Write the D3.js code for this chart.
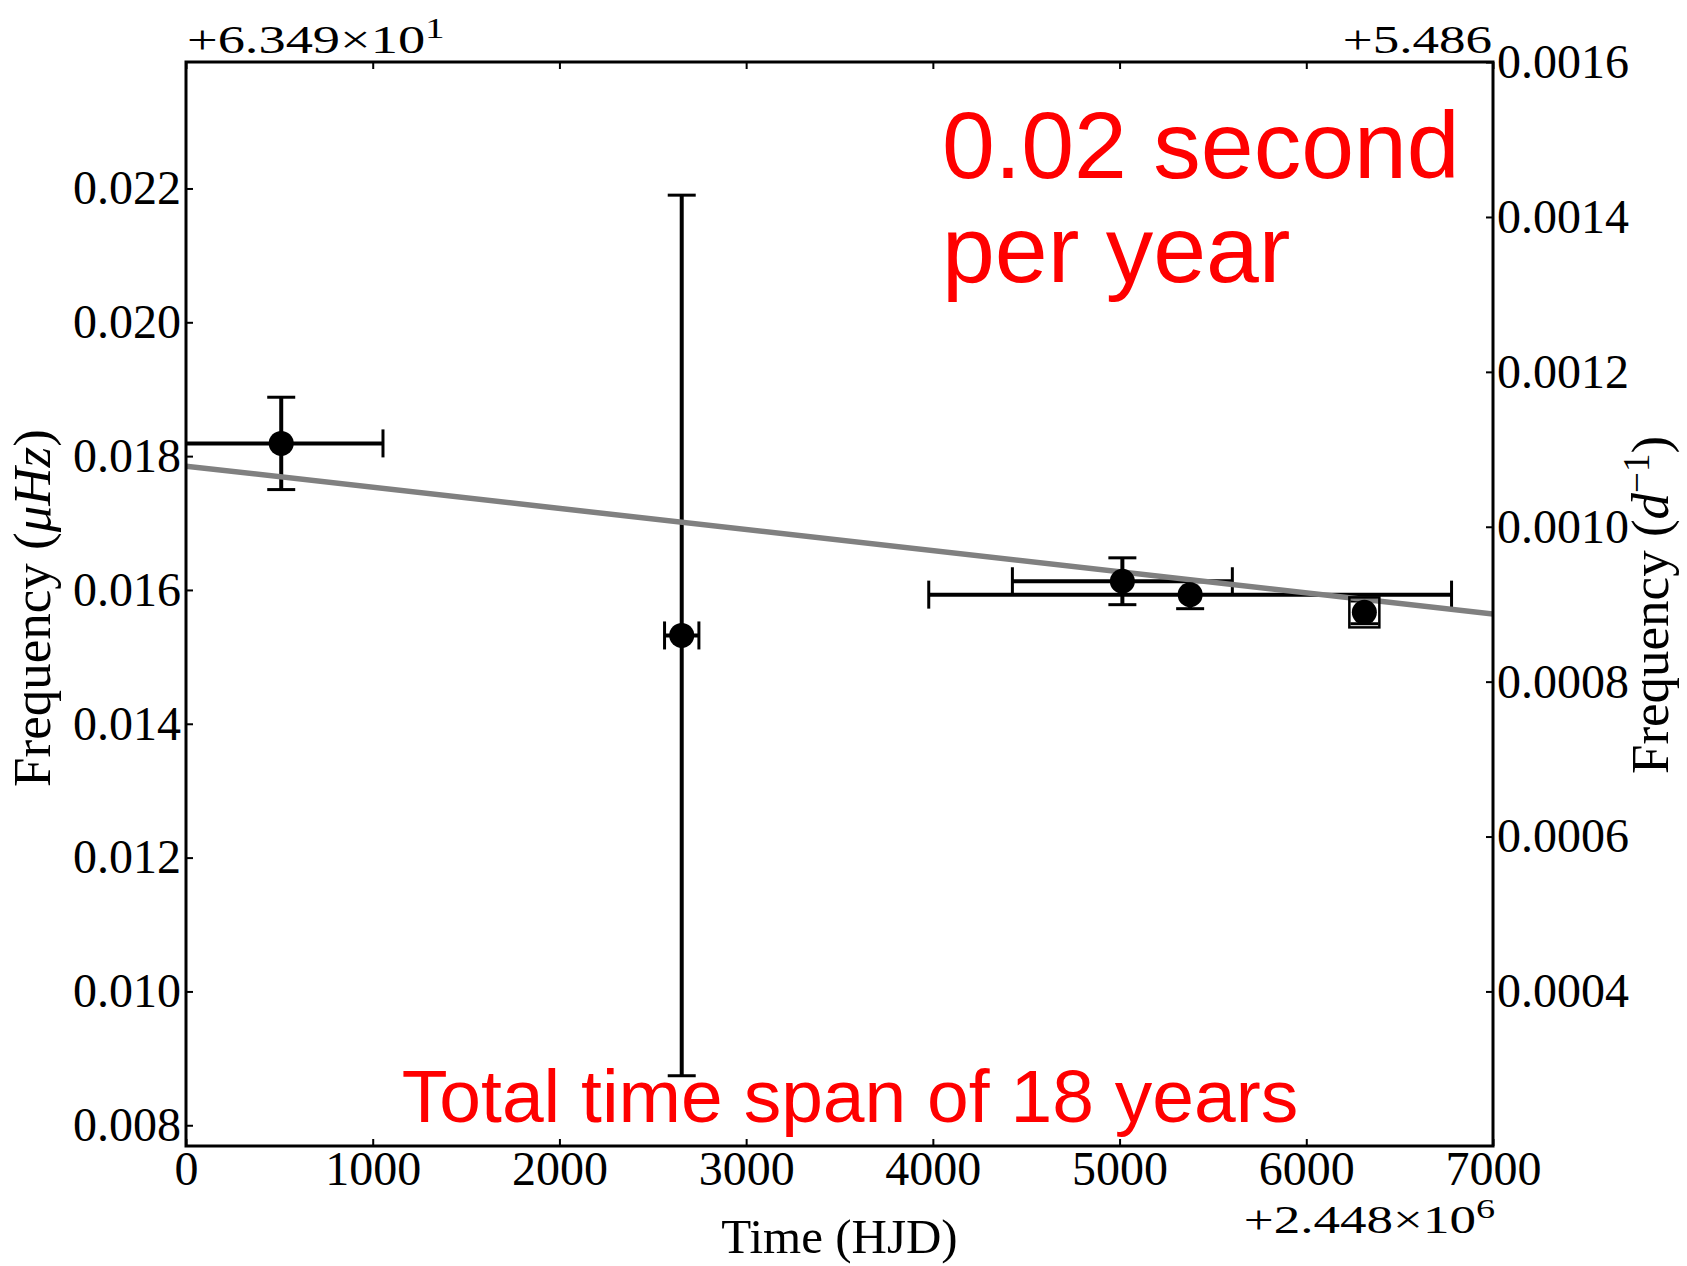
<!DOCTYPE html>
<html>
<head>
<meta charset="utf-8">
<script src="https://cdn.jsdelivr.net/npm/d3@7"></script>
<style>
  body { margin: 0; background: #fff; }
  svg { display: block; }
  .tick text { font-family: "Liberation Serif", serif; font-size: 48px; fill: #000; }
</style>
</head>
<body>
<svg id="chart" width="1687" height="1266"></svg>
<script>
// data: time is HJD - 2448000, freq is uHz - 63.49
var time     = [510, 2655, 5015, 5378, 6311];
var timeErr  = [545, 92, 589, 1400, 0];
var freq     = [0.01819, 0.01532, 0.01613, 0.01593, 0.015665];
var freqErr  = [0.00069, 0.00658, 0.00035, 0.00021, 0.00017];
var boxed    = [false, false, false, false, true];

// linear fit
var fitTime = [0, 7000];
var fitFreq = [0.01785, 0.01564];

var timeRange = [0, 7000];
var freqRange = [0.00769, 0.02389];
var xTicks  = [0, 1000, 2000, 3000, 4000, 5000, 6000, 7000];
var yTicks  = [0.008, 0.010, 0.012, 0.014, 0.016, 0.018, 0.020, 0.022];
var y2Ticks = [0.0004, 0.0006, 0.0008, 0.0010, 0.0012, 0.0014, 0.0016];

var offsetFreq = 63.49, offsetFreqD = 5.486, uHzToPerDay = 0.0864;

var svg = d3.select("#chart"),
    margin = {top: 62, right: 194, bottom: 120, left: 186},
    width = +svg.attr("width") - margin.left - margin.right,
    height = +svg.attr("height") - margin.top - margin.bottom,
    g = svg.append("g").attr("transform", "translate(" + margin.left + "," + margin.top + ")");

var x = d3.scaleLinear().domain(timeRange).range([0, width]);
var y = d3.scaleLinear().domain(freqRange).range([height, 0]);
var y2 = d3.scaleLinear()
    .domain(freqRange.map(function(f) { return (offsetFreq + f) * uHzToPerDay - offsetFreqD; }))
    .range([height, 0]);

g.append("defs").append("clipPath")
    .attr("id", "clip")
  .append("rect")
    .attr("width", width)
    .attr("height", height);

// axes, ticks inside
function styleAxis(sel) {
  sel.select(".domain").remove();
  sel.selectAll(".tick line").attr("stroke", "#000").attr("stroke-width", 2);
}
g.append("g")
    .attr("transform", "translate(0," + height + ")")
    .call(d3.axisBottom(x).tickValues(xTicks).tickFormat(d3.format("d"))
      .tickSizeInner(-7).tickSizeOuter(0).tickPadding(5))
    .call(styleAxis);
g.append("g")
    .call(d3.axisTop(x).tickValues(xTicks).tickFormat("")
      .tickSizeInner(-7).tickSizeOuter(0))
    .call(styleAxis);
g.append("g")
    .call(d3.axisLeft(y).tickValues(yTicks).tickFormat(d3.format(".3f"))
      .tickSizeInner(-7).tickSizeOuter(0).tickPadding(5))
    .call(styleAxis);
g.append("g")
    .attr("transform", "translate(" + width + ",0)")
    .call(d3.axisRight(y2).tickValues(y2Ticks).tickFormat(d3.format(".4f"))
      .tickSizeInner(-7).tickSizeOuter(0).tickPadding(4))
    .call(styleAxis);

// error bars
var pts = time.map(function(t, i) {
  return {t: t, te: timeErr[i], f: freq[i], fe: freqErr[i], box: boxed[i]};
});
var eb = g.append("g").attr("clip-path", "url(#clip)");
var cap = 14;
pts.forEach(function(d) {
  var cx = x(d.t), cy = y(d.f);
  if (d.fe > 0) {
    var y0 = y(d.f - d.fe), y1 = y(d.f + d.fe);
    eb.append("line").attr("x1", cx).attr("x2", cx).attr("y1", y0).attr("y2", y1)
      .attr("stroke", "#000").attr("stroke-width", 4);
    [y0, y1].forEach(function(yy) {
      eb.append("line").attr("x1", cx - cap).attr("x2", cx + cap).attr("y1", yy).attr("y2", yy)
        .attr("stroke", "#000").attr("stroke-width", 3);
    });
  }
  if (d.te > 0) {
    var x0 = x(d.t - d.te), x1 = x(d.t + d.te);
    eb.append("line").attr("x1", x0).attr("x2", x1).attr("y1", cy).attr("y2", cy)
      .attr("stroke", "#000").attr("stroke-width", 4);
    [x0, x1].forEach(function(xx) {
      eb.append("line").attr("x1", xx).attr("x2", xx).attr("y1", cy - cap).attr("y2", cy + cap)
        .attr("stroke", "#000").attr("stroke-width", 3);
    });
  }
});

// fit line
var line = d3.line()
    .x(function(d) { return x(d[0]); })
    .y(function(d) { return y(d[1]); });
g.append("g").attr("clip-path", "url(#clip)")
  .append("path")
    .datum(d3.zip(fitTime, fitFreq))
    .attr("d", line)
    .attr("fill", "none")
    .attr("stroke", "#808080")
    .attr("stroke-width", 5.5);

// points
g.selectAll(".pt")
    .data(pts)
  .enter().append("circle")
    .attr("class", "pt")
    .attr("cx", function(d) { return x(d.t); })
    .attr("cy", function(d) { return y(d.f); })
    .attr("r", 12.5)
    .attr("fill", "#000");
g.selectAll(".box")
    .data(pts.filter(function(d) { return d.box; }))
  .enter().append("rect")
    .attr("class", "box")
    .attr("x", function(d) { return x(d.t) - 15; })
    .attr("y", function(d) { return y(d.f) - 15; })
    .attr("width", 30)
    .attr("height", 30)
    .attr("fill", "none")
    .attr("stroke", "#000")
    .attr("stroke-width", 2.5);

// frame
g.append("rect")
    .attr("width", width)
    .attr("height", height)
    .attr("fill", "none")
    .attr("stroke", "#000")
    .attr("stroke-width", 3);

// offset labels
function offsetText(tx, ty, anchor, size, main, sup) {
  var t = svg.append("text")
      .attr("transform", "translate(" + tx + "," + ty + ") scale(1.36,1)")
      .attr("text-anchor", anchor)
      .style("font-family", "Liberation Serif, serif")
      .style("font-size", size + "px");
  t.append("tspan").text(main);
  if (sup) t.append("tspan").attr("dy", -15).style("font-size", (size * 0.72) + "px").text(sup);
}
offsetText(187, 53, "start", 40, "+6.349\u00d710", "1");
offsetText(1492, 53, "end", 39, "+5.486");
offsetText(1495, 1233, "end", 39, "+2.448\u00d710", "6");

// axis titles
svg.append("text")
    .attr("x", margin.left + width / 2)
    .attr("y", 1253)
    .attr("text-anchor", "middle")
    .style("font-family", "Liberation Serif, serif")
    .style("font-size", "49px")
    .text("Time (HJD)");

var yl = svg.append("text")
    .attr("transform", "translate(50,608) rotate(-90)")
    .attr("text-anchor", "middle")
    .style("font-family", "Liberation Serif, serif")
    .style("font-size", "53px");
yl.append("tspan").text("Frequency (");
yl.append("tspan").style("font-style", "italic").text("\u03bcHz");
yl.append("tspan").text(")");

var yr = svg.append("text")
    .attr("transform", "translate(1668,605) rotate(-90)")
    .attr("text-anchor", "middle")
    .style("font-family", "Liberation Serif, serif")
    .style("font-size", "53px");
yr.append("tspan").text("Frequency (");
yr.append("tspan").style("font-style", "italic").text("d");
yr.append("tspan").attr("dy", -19).style("font-size", "37px").text("\u22121");
yr.append("tspan").attr("dy", 19).text(")");

// red notes
var notes = svg.append("g")
    .style("font-family", "Liberation Sans, Arial, sans-serif")
    .attr("fill", "#ff0000");
notes.append("text").attr("x", 942).attr("y", 178).style("font-size", "95px").text("0.02 second");
notes.append("text").attr("x", 942).attr("y", 282).style("font-size", "95px").text("per year");
notes.append("text").attr("x", 850).attr("y", 1122).attr("text-anchor", "middle")
    .style("font-size", "75px").text("Total time span of 18 years");
</script>
</body>
</html>
